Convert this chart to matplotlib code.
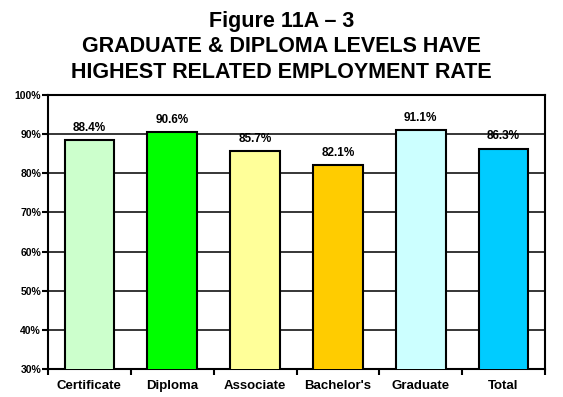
import numpy as np
import matplotlib.pyplot as plt
from matplotlib.ticker import FixedLocator, NullFormatter

categories = ["Certificate", "Diploma", "Associate", "Bachelor's", "Graduate", "Total"]
rates = [88.4, 90.6, 85.7, 82.1, 91.1, 86.3]
colors = ["#CCFFCC", "#00FF00", "#FFFF99", "#FFCC00", "#CCFFFF", "#00CCFF"]

plt.rcParams['font.family'] = ['Liberation Sans', 'DejaVu Sans']
plt.rcParams['font.weight'] = 'bold'

fig = plt.figure(figsize=(5.63, 3.97), dpi=100)
ax = fig.add_axes([0.0853, 0.0705, 0.8827, 0.6902])

x = np.arange(len(categories))
ax.bar(x, rates, width=0.6, color=colors, edgecolor='black', linewidth=1.5, zorder=3)

for xi, v in zip(x, rates):
    ax.text(xi, v + 1.6, f"{v:.1f}%", ha='center', va='bottom', fontsize=8.5, fontweight='bold')

ax.set_xlim(-0.5, len(categories) - 0.5)
ax.set_ylim(30, 100)
ax.set_yticks(np.arange(30, 101, 10))
ax.set_yticklabels([f"{t}%" for t in range(30, 101, 10)], fontsize=7.5, fontweight='bold')
ax.yaxis.grid(True, color='black', linewidth=1.1, zorder=0)

# category labels centred on bars, tick marks between categories
ax.set_xticks(x)
ax.set_xticklabels(categories, fontsize=9.5, fontweight='bold')
ax.tick_params(axis='x', which='major', length=0, pad=8)
ax.xaxis.set_minor_locator(FixedLocator(np.arange(-0.5, len(categories), 1.0)))
ax.xaxis.set_minor_formatter(NullFormatter())
ax.tick_params(axis='x', which='minor', length=4, width=1.5, direction='out')
ax.tick_params(axis='y', length=4, width=1.5, direction='out', pad=1)

for s in ax.spines.values():
    s.set_linewidth(1.5)

fig.text(0.5, 0.947, "Figure 11A \u2013 3", ha='center', va='center', fontsize=15.5, fontweight='bold')
fig.text(0.5, 0.882, "GRADUATE & DIPLOMA LEVELS HAVE", ha='center', va='center', fontsize=15.5, fontweight='bold')
fig.text(0.5, 0.817, "HIGHEST RELATED EMPLOYMENT RATE", ha='center', va='center', fontsize=15.5, fontweight='bold')

fig.savefig("out.png", dpi=100)
